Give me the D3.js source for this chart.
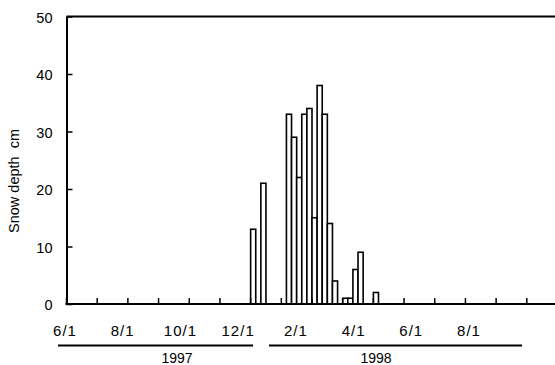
<!DOCTYPE html>
<html>
<head>
<meta charset="utf-8">
<script src="https://cdn.jsdelivr.net/npm/d3@7"></script>
<style>
  body { margin: 0; background: #fff; }
  text { font-family: Arial, "Liberation Sans", sans-serif; fill: #000; }
</style>
</head>
<body>
<div id="chart"></div>
<script>
// pentad snow depth (cm), only non-zero pentads listed
const barDates = ['1997-12-1', '1997-12-11',
  '1998-1-6', '1998-1-11', '1998-1-16', '1998-1-21', '1998-1-26',
  '1998-2-1', '1998-2-6', '1998-2-11', '1998-2-16', '1998-2-21',
  '1998-3-1', '1998-3-6', '1998-3-11', '1998-3-16', '1998-4-1'];
const snowDepth = [13, 21, 33, 29, 22, 33, 34, 15, 38, 33, 14, 4, 1, 1, 6, 9, 2];

const months = [[1997, 6], [1997, 7], [1997, 8], [1997, 9], [1997, 10], [1997, 11], [1997, 12],
  [1998, 1], [1998, 2], [1998, 3], [1998, 4], [1998, 5], [1998, 6], [1998, 7], [1998, 8], [1998, 9]];
const pentadDays = [1, 6, 11, 16, 21, 26];
const monthLabels = ['6/1', '8/1', '10/1', '12/1', '2/1', '4/1', '6/1', '8/1'];
const years = ['1997', '1998'];
const yTicks = [0, 10, 20, 30, 40, 50];

const width = 555, height = 365;
const plot = { left: 66.5, right: 557.5, top: 16.5, bottom: 304 };

const svg = d3.select('#chart').append('svg')
  .attr('width', width)
  .attr('height', height);

// one category per pentad
const pentads = [];
months.forEach(m => pentadDays.forEach(d => pentads.push(m[0] + '-' + m[1] + '-' + d)));

const x = d3.scaleBand().domain(pentads).range([plot.left, plot.right]).padding(0);
const y = d3.scaleLinear().domain([0, 50]).range([plot.bottom, plot.top]);

// bars
svg.append('g')
  .selectAll('rect')
  .data(barDates.map((d, i) => ({ date: d, v: snowDepth[i] })))
  .enter().append('rect')
  .attr('x', d => x(d.date))
  .attr('width', x.bandwidth())
  .attr('y', d => y(d.v))
  .attr('height', d => y(0) - y(d.v))
  .attr('fill', '#fff')
  .attr('stroke', '#000')
  .attr('stroke-width', 1.6);

// y axis
const yAxis = d3.axisLeft(y)
  .tickValues(yTicks)
  .tickSizeInner(-6)
  .tickSizeOuter(0)
  .tickPadding(14);

const gy = svg.append('g')
  .attr('transform', 'translate(' + plot.left + ',0)')
  .call(yAxis);
gy.select('.domain').attr('stroke-width', 2);
gy.selectAll('.tick line').attr('stroke-width', 1.5);
gy.selectAll('text').style('font-size', '14.5px').attr('dy', '0.4em');

// top frame line
svg.append('line')
  .attr('x1', plot.left).attr('x2', plot.right)
  .attr('y1', plot.top).attr('y2', plot.top)
  .attr('stroke', '#000').attr('stroke-width', 2);

// x axis line + month ticks
svg.append('line')
  .attr('x1', plot.left - 1).attr('x2', plot.right)
  .attr('y1', plot.bottom).attr('y2', plot.bottom)
  .attr('stroke', '#000').attr('stroke-width', 2);

svg.append('g')
  .selectAll('line')
  .data(months.map(m => m[0] + '-' + m[1] + '-1'))
  .enter().append('line')
  .attr('x1', d => x(d)).attr('x2', d => x(d))
  .attr('y1', plot.bottom).attr('y2', plot.bottom - 6)
  .attr('stroke', '#000').attr('stroke-width', 1.5);

// month labels (placed as separate text boxes in the original)
const xl = d3.scalePoint().domain(d3.range(monthLabels.length)).range([65, 469]);
svg.append('g')
  .selectAll('text')
  .data(monthLabels)
  .enter().append('text')
  .attr('x', (d, i) => xl(i))
  .attr('y', 335.5)
  .attr('text-anchor', 'middle')
  .style('font-size', '15px')
  .style('letter-spacing', '1px')
  .text(d => d);

// year bars
const yearLines = [[58, 253], [269, 522]];
const yearX = [177, 376];
yearLines.forEach((l, i) => {
  svg.append('line')
    .attr('x1', l[0]).attr('x2', l[1])
    .attr('y1', 345.5).attr('y2', 345.5)
    .attr('stroke', '#000').attr('stroke-width', 2);
  svg.append('text')
    .attr('x', yearX[i]).attr('y', 363)
    .attr('text-anchor', 'middle')
    .style('font-size', '14px')
    .text(years[i]);
});

// y title
svg.append('text')
  .attr('transform', 'translate(19,181) rotate(-90)')
  .attr('text-anchor', 'middle')
  .style('font-size', '14.5px')
  .style('white-space', 'pre')
  .text('Snow depth  cm');
</script>
</body>
</html>
